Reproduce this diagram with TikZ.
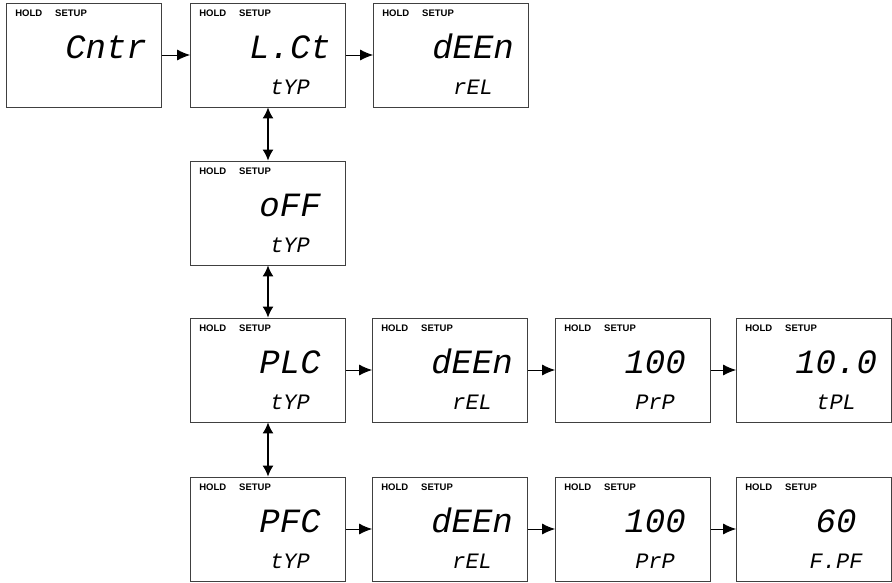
\documentclass[tikz,border=0pt]{standalone}
\usepackage{fontspec}
\setmainfont{Liberation Sans}
\setmonofont{Liberation Mono}
\usetikzlibrary{arrows.meta}
\begin{document}
\begin{tikzpicture}
	[
	x=1pt, y=-1pt,
	%Voreinstellung für Anzeigen
	screen/.style={draw=black!75, line width=0.8pt, minimum width=155pt, minimum height=104pt, inner sep=0pt},
	hold/.style={font=\bfseries\fontsize{9.5}{10}\selectfont, inner sep=0pt, anchor=base west},
	value/.style={font=\ttfamily\itshape\fontsize{34}{35}\selectfont, inner sep=0pt, anchor=base},
	param/.style={font=\ttfamily\itshape\fontsize{22}{23}\selectfont, inner sep=0pt, anchor=base},
	step arrow/.style={-{Latex[length=13pt, width=11pt]}, line width=0.9pt},
	both arrow/.style={{Latex[length=11pt, width=11pt]}-{Latex[length=11pt, width=11pt]}, line width=1.4pt}
	]
	\useasboundingbox (0,0) rectangle (892,582);
	%Anzeigen
	\foreach \nm/\cx/\cy/\val/\sub in {cntr/84/55/Cntr/{}, lct/268/55/L.Ct/tYP, deenA/451/55/dEEn/rEL,
		off/268/213/oFF/tYP, plc/268/370/PLC/tYP, deenB/450/370/dEEn/rEL, prpA/633/370/100/PrP,
		tpl/814/370/10.0/tPL, pfc/268/529/PFC/tYP, deenC/450/529/dEEn/rEL, prpB/633/529/100/PrP,
		fpf/814/529/60/F.PF}
	{
		\node[screen] (\nm) at (\cx,\cy) {};
		\node[hold] (\nm-hold) at ([shift={(9pt,-14pt)}]\nm.north west) {HOLD\hspace{13pt}SETUP};
		\node[value] (\nm-val) at ([shift={(100pt,-56pt)}]\nm.north west) {\val};
		\node[param] (\nm-sub) at ([shift={(100pt,-92pt)}]\nm.north west) {\sub};
	}
	%Pfeile
	\draw[step arrow] (cntr) -- (lct);
	\draw[step arrow] (lct) -- (deenA);
	\draw[step arrow] (plc) -- (deenB);
	\draw[step arrow] (deenB) -- (prpA);
	\draw[step arrow] (prpA) -- (tpl);
	\draw[step arrow] (pfc) -- (deenC);
	\draw[step arrow] (deenC) -- (prpB);
	\draw[step arrow] (prpB) -- (fpf);
	\draw[both arrow] (lct) -- (off);
	\draw[both arrow] (off) -- (plc);
	\draw[both arrow] (plc) -- (pfc);
\end{tikzpicture}
\end{document}
